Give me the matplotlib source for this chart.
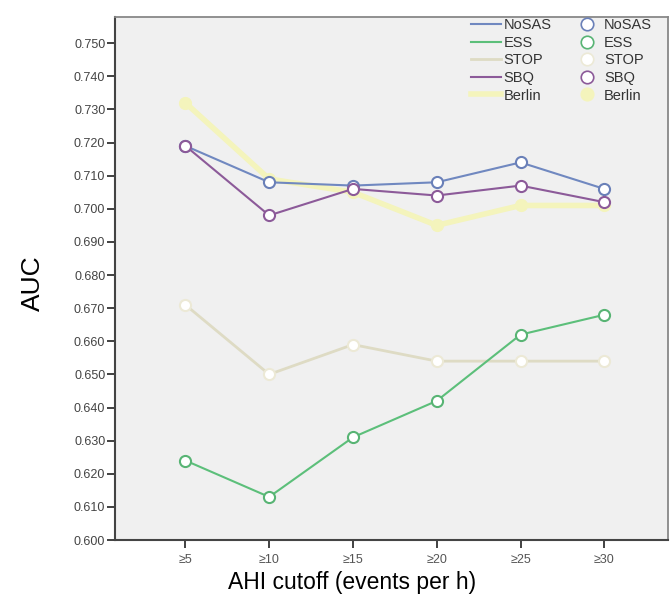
import matplotlib
matplotlib.use("Agg")
import matplotlib.pyplot as plt
from matplotlib.lines import Line2D

categories = ["≥5", "≥10", "≥15", "≥20", "≥25", "≥30"]
series_names = ["NoSAS", "ESS", "STOP", "SBQ", "Berlin"]
nosas = [0.719, 0.708, 0.707, 0.708, 0.714, 0.706]
ess = [0.624, 0.613, 0.631, 0.642, 0.662, 0.668]
stop = [0.671, 0.650, 0.659, 0.654, 0.654, 0.654]
sbq = [0.719, 0.698, 0.706, 0.704, 0.707, 0.702]
berlin = [0.732, 0.709, 0.705, 0.695, 0.701, 0.701]
yticks = [0.600, 0.610, 0.620, 0.630, 0.640, 0.650, 0.660, 0.670, 0.680,
          0.690, 0.700, 0.710, 0.720, 0.730, 0.740, 0.750]

values = [nosas, ess, stop, sbq, berlin]
line_colors = ["#7088c0", "#5cbf7a", "#dedbc4", "#8c5a99", "#f4f4bc"]
marker_edges = ["#6a80b8", "#58b474", "#ece9d6", "#8c5a99", "#f4f4bc"]
marker_faces = ["white", "white", "white", "white", "#f4f4bc"]
line_widths = [1.5, 1.5, 2.0, 1.5, 4.0]
zorders = [4, 4, 3, 4, 2]

plt.rcParams['font.family'] = ['Liberation Sans', 'DejaVu Sans']

W, H = 672, 596
fig = plt.figure(figsize=(W / 100, H / 100), dpi=100)
ax_l, ax_r, ax_t, ax_b = 115, 668, 17, 540
ax = fig.add_axes([ax_l / W, (H - ax_b) / H, (ax_r - ax_l) / W, (ax_b - ax_t) / H])
ax.set_facecolor("#f0f0f0")

x = list(range(len(categories)))
for vals, lc, me, mf, lw, zo in zip(values, line_colors, marker_edges,
                                    marker_faces, line_widths, zorders):
    ax.plot(x, vals, color=lc, lw=lw, zorder=zo)
    ax.plot(x, vals, ls="none", marker="o", ms=8, mfc=mf, mec=me, mew=1.5,
            zorder=zo + 0.5)

ax.set_xlim(-0.84, 5.76)
ax.set_ylim(0.600, 0.7579)
ax.set_xticks(x)
ax.set_xticklabels(categories, color="#555555", fontsize=9)
ax.set_yticks(yticks)
ax.set_yticklabels([f"{v:.3f}" for v in yticks], color="#444444", fontsize=9)
ax.tick_params(axis="both", direction="out", length=6, width=1.3,
               color="#333333")
ax.tick_params(axis="x", pad=4)
ax.tick_params(axis="y", pad=1)
for side in ["left", "bottom"]:
    ax.spines[side].set_color("#444444")
    ax.spines[side].set_linewidth(1.5)
for side in ["top", "right"]:
    ax.spines[side].set_color("#888888")
    ax.spines[side].set_linewidth(1.3)

fig.text(33 / W, (H - 283) / H, "AUC", rotation=90, fontsize=19,
         ha="center", va="center")
fig.text(352 / W, (H - 583) / H, "AHI cutoff (events per h)", fontsize=16.5,
         ha="center", va="center")

line_handles = [Line2D([], [], color=c, lw=w) for c, w in zip(line_colors, line_widths)]
marker_handles = [Line2D([], [], ls="none", marker="o", ms=9, mfc=f, mec=e, mew=1.2)
                  for f, e in zip(marker_faces, marker_edges)]
leg = ax.legend(line_handles + marker_handles, series_names + series_names,
                ncol=2, loc="upper right", frameon=False, fontsize=10.5,
                handlelength=2.05, handletextpad=0.15, columnspacing=1.4,
                labelspacing=0.25, borderpad=0.0, borderaxespad=0.0,
                bbox_to_anchor=(1 - 16 / (ax_r - ax_l), 1 - 1 / (ax_b - ax_t)))
for t in leg.get_texts():
    t.set_color("#333333")

fig.savefig("out.png", dpi=100)
